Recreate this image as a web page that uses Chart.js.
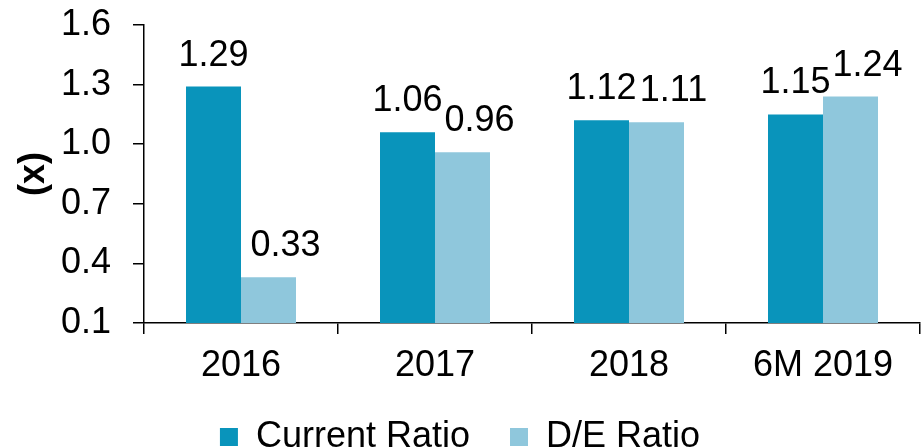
<!DOCTYPE html>
<html>
<head>
<meta charset="utf-8">
<script src="https://cdn.jsdelivr.net/npm/chart.js@4"></script>
<style>
  body { margin: 0; background: #fff; }
</style>
</head>
<body>
<canvas id="myChart" width="924" height="448"></canvas>
<script>
const categories = ['2016', '2017', '2018', '6M 2019'];
const currentRatio = [1.29, 1.06, 1.12, 1.15];
const deRatio = [0.33, 0.96, 1.11, 1.24];
const yTicks = [0.1, 0.4, 0.7, 1.0, 1.3, 1.6];

const FONT = '"Liberation Sans", Arial, sans-serif';

// draws the value above each bar (second series nudged right like the original)
const barLabels = {
    id: 'barLabels',
    afterDatasetsDraw(chart) {
        const ctx = chart.ctx;
        ctx.save();
        ctx.font = '36px ' + FONT;
        ctx.fillStyle = '#000';
        ctx.textAlign = 'center';
        ctx.textBaseline = 'alphabetic';
        chart.data.datasets.forEach((ds, i) => {
            const dx = i === 1 ? 17 : 0;
            chart.getDatasetMeta(i).data.forEach((bar, j) => {
                ctx.fillText(ds.data[j].toFixed(2), bar.x + dx, bar.y - 21);
            });
        });
        ctx.restore();
    }
};

const ctx = document.getElementById('myChart').getContext('2d');
new Chart(ctx, {
    type: 'bar',
    data: {
        labels: categories,
        datasets: [{
            label: 'Current Ratio',
            data: currentRatio,
            backgroundColor: '#0994bb',
            categoryPercentage: 0.567,
            barPercentage: 1.0
        }, {
            label: 'D/E Ratio',
            data: deRatio,
            backgroundColor: '#8fc7dc',
            categoryPercentage: 0.567,
            barPercentage: 1.0
        }]
    },
    options: {
        responsive: false,
        animation: false,
        layout: {
            padding: { top: 25, right: 4, left: 0, bottom: -17 }
        },
        plugins: {
            tooltip: { enabled: false },
            legend: {
                position: 'bottom',
                labels: {
                    color: '#000',
                    font: { family: FONT, size: 36 },
                    boxWidth: 18,
                    boxHeight: 18,
                    padding: 40
                }
            }
        },
        scales: {
            x: {
                grid: {
                    drawOnChartArea: false,
                    color: '#000',
                    lineWidth: 1.5,
                    tickLength: 11
                },
                border: { color: '#000', width: 1.5 },
                ticks: {
                    color: '#000',
                    font: { family: FONT, size: 36 },
                    padding: 10,
                    maxRotation: 0
                },
                afterFit(scale) {
                    scale.height = 56;
                    scale.paddingLeft = 0;
                    scale.paddingRight = 0;
                }
            },
            y: {
                min: 0.1,
                max: 1.6,
                afterBuildTicks(scale) {
                    scale.ticks = yTicks.map(v => ({ value: v }));
                },
                grid: {
                    drawOnChartArea: false,
                    color: '#000',
                    lineWidth: 1.5,
                    tickLength: 11
                },
                border: { color: '#000', width: 1.5 },
                ticks: {
                    color: '#000',
                    font: { family: FONT, size: 36 },
                    padding: 22,
                    callback: v => v.toFixed(1)
                },
                title: {
                    display: true,
                    text: '(x)',
                    color: '#000',
                    font: { family: FONT, size: 36, weight: 'bold' },
                    padding: { top: 12, bottom: 0 }
                },
                afterFit(scale) {
                    scale.width = 144;
                    scale.paddingTop = 0;
                    scale.paddingBottom = 0;
                }
            }
        }
    },
    plugins: [barLabels]
});
</script>
</body>
</html>
